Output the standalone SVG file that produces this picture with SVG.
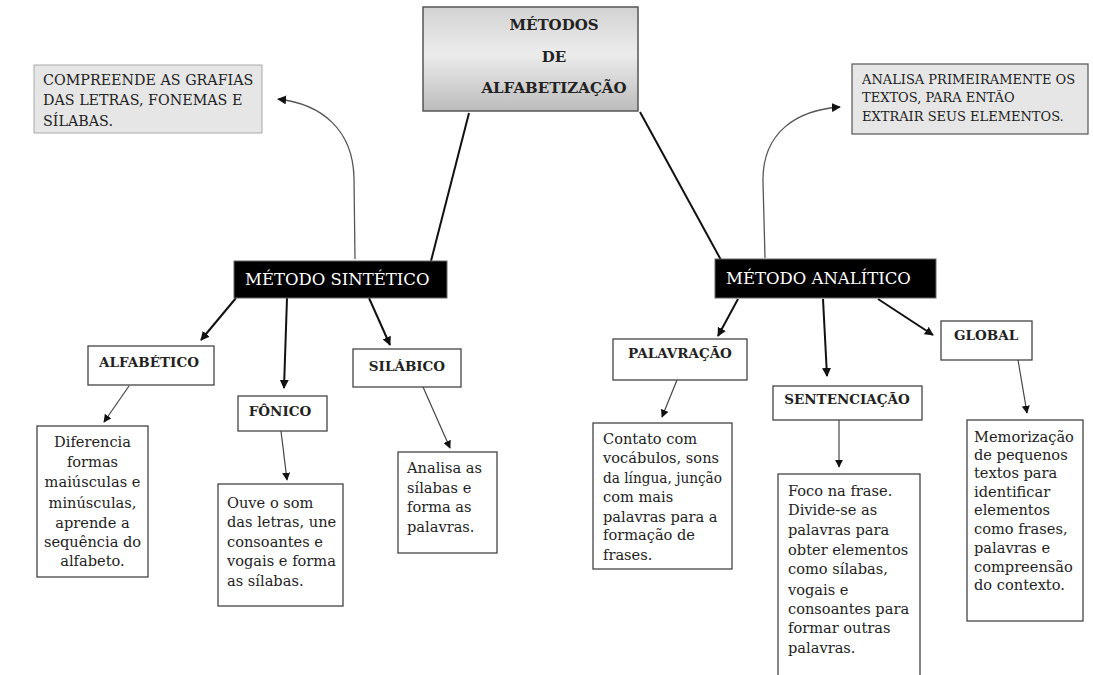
<svg xmlns="http://www.w3.org/2000/svg" width="1093" height="675" viewBox="0 0 1093 675">
<defs>
<linearGradient id="g" x1="0" y1="0" x2="0" y2="1">
<stop offset="0" stop-color="#d2d2d2"/>
<stop offset="0.45" stop-color="#ececec"/>
<stop offset="1" stop-color="#bcbcbc"/>
</linearGradient>
<marker id="ah" viewBox="0 0 10 10" refX="9" refY="5" markerWidth="9" markerHeight="9" markerUnits="userSpaceOnUse" orient="auto">
<path d="M0,0 L10,5 L0,10 z" fill="#111"/>
</marker>
<marker id="ahs" viewBox="0 0 10 10" refX="9" refY="5" markerWidth="8" markerHeight="8" markerUnits="userSpaceOnUse" orient="auto">
<path d="M0,0 L10,5 L0,10 z" fill="#111"/>
</marker>
</defs>
<style>
text{font-family:"DejaVu Serif","Liberation Serif",serif;fill:#222}
.t{font-weight:bold;font-size:15px;text-anchor:middle}
.note{font-size:14.3px}
.note2{font-size:13px}
.bk{fill:#000;stroke:#666;stroke-width:1}
.wt{fill:#fff;font-size:16.5px}
.sub{fill:#fff;stroke:#444;stroke-width:1.3}
.sl{font-weight:bold;font-size:13.5px}
.d{font-size:14.6px}
.c{text-anchor:middle}
.m{fill:none;stroke:#111;stroke-width:2}
.s{fill:none;stroke:#444;stroke-width:1.2}
.cv{fill:none;stroke:#555;stroke-width:1.3}
</style>
<g id="connectors">
<line class="m" x1="469" y1="113" x2="431" y2="261"/>
<line class="m" x1="640" y1="112" x2="721" y2="260"/>
<path class="cv" d="M355,259 L354,178 C353,130 322,104 278,99" marker-end="url(#ah)"/>
<path class="cv" d="M765,258 L763,182 C762,132 797,110 840,107" marker-end="url(#ah)"/>
<line class="m" x1="236" y1="298" x2="201" y2="340" marker-end="url(#ah)"/>
<line class="m" x1="287" y1="298" x2="284" y2="388" marker-end="url(#ah)"/>
<line class="m" x1="369" y1="298" x2="390" y2="345" marker-end="url(#ah)"/>
<line class="s" x1="129" y1="386" x2="104" y2="422" marker-end="url(#ahs)"/>
<line class="s" x1="281" y1="431" x2="287" y2="480" marker-end="url(#ahs)"/>
<line class="s" x1="423" y1="387" x2="450" y2="448" marker-end="url(#ahs)"/>
<line class="m" x1="738" y1="299" x2="718" y2="336" marker-end="url(#ah)"/>
<line class="m" x1="823" y1="299" x2="827" y2="376" marker-end="url(#ah)"/>
<line class="m" x1="878" y1="299" x2="933" y2="335" marker-end="url(#ah)"/>
<line class="s" x1="677" y1="380" x2="662" y2="417" marker-end="url(#ahs)"/>
<line class="s" x1="839" y1="420" x2="839" y2="467" marker-end="url(#ahs)"/>
<line class="s" x1="1018" y1="360" x2="1027" y2="413" marker-end="url(#ahs)"/>
</g>
<g id="title">
<rect x="423" y="7" width="215" height="104" fill="url(#g)" stroke="#555" stroke-width="1.5"/>
<text class="t" x="554" y="30">MÉTODOS</text>
<text class="t" x="554" y="62">DE</text>
<text class="t" x="554" y="93">ALFABETIZAÇÃO</text>
</g>
<g id="note-left">
<rect x="34" y="65" width="228" height="68" fill="#e6e6e6" stroke="#aaa" stroke-width="1"/>
<text class="note" x="43" y="85">COMPREENDE AS GRAFIAS</text>
<text class="note" x="43" y="105">DAS LETRAS, FONEMAS E</text>
<text class="note" x="43" y="126">SÍLABAS.</text>
</g>
<g id="note-right">
<rect x="852" y="64" width="236" height="70" fill="#e6e6e6" stroke="#555" stroke-width="1.2"/>
<text class="note2" x="862" y="84">ANALISA PRIMEIRAMENTE OS</text>
<text class="note2" x="862" y="102">TEXTOS, PARA ENTÃO</text>
<text class="note2" x="862" y="121">EXTRAIR SEUS ELEMENTOS.</text>
</g>
<g id="sintetico">
<rect class="bk" x="234" y="261" width="213" height="37"/>
<text class="wt" x="245" y="285">MÉTODO SINTÉTICO</text>
</g>
<g id="analitico">
<rect class="bk" x="715" y="259" width="221" height="39"/>
<text class="wt" x="726" y="284">MÉTODO ANALÍTICO</text>
</g>
<g id="alfabetico">
<rect class="sub" x="88" y="346" width="126" height="39"/>
<text class="sl c" x="149" y="367">ALFABÉTICO</text>
</g>
<g id="fonico">
<rect class="sub" x="238" y="396" width="89" height="35"/>
<text class="sl c" x="280" y="416">FÔNICO</text>
</g>
<g id="silabico">
<rect class="sub" x="353" y="349" width="108" height="38"/>
<text class="sl c" x="407" y="371">SILÁBICO</text>
</g>
<g id="palavracao">
<rect class="sub" x="613" y="339" width="134" height="41"/>
<text class="sl c" x="680" y="358">PALAVRAÇÃO</text>
</g>
<g id="sentenciacao">
<rect class="sub" x="773" y="386" width="149" height="34"/>
<text class="sl c" x="847" y="404">SENTENCIAÇÃO</text>
</g>
<g id="global">
<rect class="sub" x="941" y="321" width="91" height="39"/>
<text class="sl" x="954" y="340">GLOBAL</text>
</g>
<g id="desc-alfabetico">
<rect class="sub" x="37" y="426" width="111" height="151"/>
<text class="d c" x="92.5" y="447">Diferencia</text>
<text class="d c" x="92.5" y="467">formas</text>
<text class="d c" x="92.5" y="487">maiúsculas e</text>
<text class="d c" x="92.5" y="508">minúsculas,</text>
<text class="d c" x="92.5" y="528">aprende a</text>
<text class="d c" x="92.5" y="547">sequência do</text>
<text class="d c" x="92.5" y="566">alfabeto.</text>
</g>
<g id="desc-fonico">
<rect class="sub" x="218" y="484" width="125" height="122"/>
<text class="d" x="227" y="508">Ouve o som</text>
<text class="d" x="227" y="527">das letras, une</text>
<text class="d" x="227" y="547">consoantes e</text>
<text class="d" x="227" y="566">vogais e forma</text>
<text class="d" x="227" y="586">as sílabas.</text>
</g>
<g id="desc-silabico">
<rect class="sub" x="398" y="452" width="99" height="101"/>
<text class="d" x="407" y="473">Analisa as</text>
<text class="d" x="407" y="493">sílabas e</text>
<text class="d" x="407" y="512">forma as</text>
<text class="d" x="407" y="532">palavras.</text>
</g>
<g id="desc-palavracao">
<rect class="sub" x="593" y="423" width="139" height="146"/>
<text class="d" x="603" y="444">Contato com</text>
<text class="d" x="603" y="463">vocábulos, sons</text>
<text class="d" x="603" y="483" textLength="119" lengthAdjust="spacingAndGlyphs">da língua, junção</text>
<text class="d" x="603" y="502">com mais</text>
<text class="d" x="603" y="522">palavras para a</text>
<text class="d" x="603" y="540">formação de</text>
<text class="d" x="603" y="560">frases.</text>
</g>
<g id="desc-sentenciacao">
<rect class="sub" x="778" y="474" width="142" height="205"/>
<text class="d" x="788" y="496">Foco na frase.</text>
<text class="d" x="788" y="515">Divide-se as</text>
<text class="d" x="788" y="535">palavras para</text>
<text class="d" x="788" y="555">obter elementos</text>
<text class="d" x="788" y="574">como sílabas,</text>
<text class="d" x="788" y="595">vogais e</text>
<text class="d" x="788" y="614">consoantes para</text>
<text class="d" x="788" y="633">formar outras</text>
<text class="d" x="788" y="653">palavras.</text>
</g>
<g id="desc-global">
<rect class="sub" x="967" y="420" width="116" height="201"/>
<text class="d" x="974" y="442">Memorização</text>
<text class="d" x="974" y="460">de pequenos</text>
<text class="d" x="974" y="478">textos para</text>
<text class="d" x="974" y="497">identificar</text>
<text class="d" x="974" y="515">elementos</text>
<text class="d" x="974" y="534">como frases,</text>
<text class="d" x="974" y="553">palavras e</text>
<text class="d" x="974" y="572">compreensão</text>
<text class="d" x="974" y="590">do contexto.</text>
</g>
</svg>
